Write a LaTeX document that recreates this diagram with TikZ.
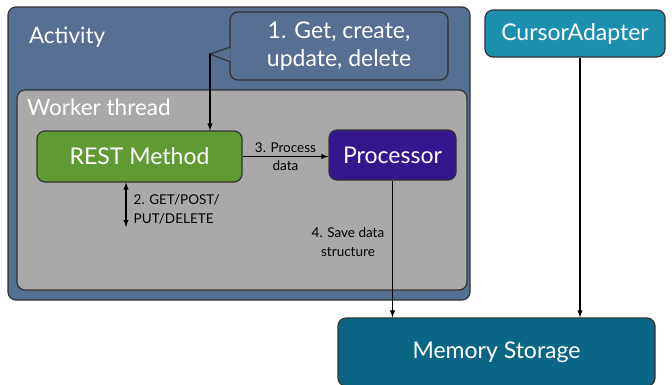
\documentclass[tikz,border=0pt]{standalone}
\usepackage{fontspec}
\setmainfont{Lato}
\usetikzlibrary{arrows}

\definecolor{actblue}{HTML}{557092}
\definecolor{workgray}{HTML}{A9A9A9}
\definecolor{restgreen}{HTML}{5F9B32}
\definecolor{procpurple}{HTML}{34168E}
\definecolor{cursorteal}{HTML}{1C8FAE}
\definecolor{memteal}{HTML}{0B6584}

\tikzset{
	box/.style={draw=black!80, line width=1.2pt, rounded corners=8pt, inner sep=0pt, text=white, font=\fontsize{23}{28}\selectfont},
	biglabel/.style={text=white, font=\fontsize{22.5}{28}\selectfont},
	smalllabel/.style={font=\fontsize{13.5}{19}\selectfont, inner sep=1pt}
}

\begin{document}
\begin{tikzpicture}[x=1pt,y=-1pt,line width=1.4pt]
		\useasboundingbox (0,0) rectangle (672,384);
		%%Containers
		\node[box, fill=actblue, minimum width=462pt, minimum height=293pt] (activity) at (239,153.5) {};
		\node[biglabel, anchor=west] (actlabel) at (25,37) {Activity};
		\node[box, fill=workgray, minimum width=450pt, minimum height=200pt] (worker) at (242,190) {};
		\node[biglabel, anchor=west] (worklabel) at (23,107) {Worker thread};
		%%Callout
		\node[box, fill=actblue, minimum width=218pt, minimum height=68pt, align=center] (callout) at (339,46) {1. Get, create,\\update, delete};
		\coordinate (tip) at (210,54);
		\filldraw[fill=actblue, draw=black!80, line width=1.2pt] (230.6,47) -- (tip) -- (230.6,62);
		%%Boxes
		\node[box, fill=restgreen, minimum width=205pt, minimum height=51pt] (rest) at (139.5,156.5) {REST Method};
		\node[box, fill=procpurple, minimum width=127pt, minimum height=50pt] (proc) at (392.5,155) {Processor};
		\node[box, fill=cursorteal, minimum width=180pt, minimum height=47pt] (cursor) at (575,33.5) {CursorAdapter};
		\node[box, fill=memteal, minimum width=317pt, minimum height=68pt] (mem) at (496.5,352) {Memory Storage};
		%%Arrows
		\draw[-latex] (tip) -- (tip |- rest.north);
		\draw[-latex] (rest.east) -- (rest.east -| proc.west)
			node[midway, above=2pt, smalllabel] {3. Process}
			node[midway, below=2pt, smalllabel] {data};
		\coordinate (getend) at (126,227);
		\draw[latex-latex] (getend |- rest.south) -- (getend);
		\node[smalllabel, anchor=west, align=left] (getlabel) at (132,209) {2. GET/POST/\\PUT/DELETE};
		\draw[-latex] (proc.south) -- (proc.south |- mem.north);
		\node[smalllabel, align=center] (savelabel) at (348,242) {4. Save data\\structure};
		\draw[-latex] ([xshift=5pt]cursor.south) -- ([xshift=5pt]cursor.south |- mem.north);
\end{tikzpicture}
\end{document}
